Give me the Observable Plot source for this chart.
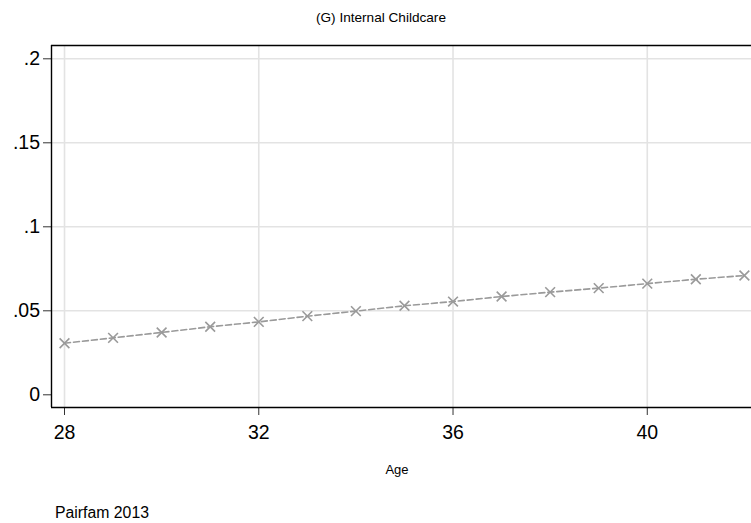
<!DOCTYPE html>
<html>
<head>
<meta charset="utf-8">
<script src="https://cdn.jsdelivr.net/npm/d3@7"></script>
<script src="https://cdn.jsdelivr.net/npm/@observablehq/plot@0.6"></script>
<style>
  html, body { margin: 0; padding: 0; background: #fff; overflow: hidden; }
  #wrap { position: relative; width: 751px; height: 523px; overflow: hidden; font-family: "Liberation Sans", Arial, Helvetica, sans-serif; }
  #chart svg { display: block; max-width: none; }
  .txt { position: absolute; color: #000; white-space: nowrap; line-height: 1; }
  #title { left: 0; width: 762px; text-align: center; top: 11px; font-size: 13.6px; }
  #xlabel { left: 0; width: 794px; text-align: center; top: 463px; font-size: 13px; }
  #caption { left: 55px; top: 505px; font-size: 15.8px; }
</style>
</head>
<body>
<div id="wrap">
  <div id="chart"></div>
  <div id="title" class="txt">(G) Internal Childcare</div>
  <div id="xlabel" class="txt">Age</div>
  <div id="caption" class="txt">Pairfam 2013</div>
</div>
<script>
const ages = [28, 29, 30, 31, 32, 33, 34, 35, 36, 37, 38, 39, 40, 41, 42];
const shares = [0.0307, 0.0339, 0.0371, 0.0405, 0.0434, 0.0468, 0.0498, 0.0530, 0.0555, 0.0585, 0.0611, 0.0635, 0.0662, 0.0688, 0.0710];
const xTicks = [28, 32, 36, 40];
const yTicks = [0, 0.05, 0.1, 0.15, 0.2];
const yTickLabels = ["0", ".05", ".1", ".15", ".2"];
const yGrid = [0.05, 0.1, 0.15, 0.2];

const data = ages.map((a, i) => ({age: a, share: shares[i]}));
const xDomain = [27.732, 42.352];
const yDomain = [-0.00756, 0.20792];

const chart = Plot.plot({
  width: 761,
  height: 523,
  marginLeft: 51,
  marginRight: 0,
  marginTop: 45,
  marginBottom: 116,
  style: {fontFamily: "'Liberation Sans', Arial, Helvetica, sans-serif", background: "#fff", color: "#000", maxWidth: "none"},
  x: {domain: xDomain, label: null},
  y: {domain: yDomain, label: null},
  marks: [
    Plot.gridX(xTicks, {stroke: "#e3e3e3", strokeOpacity: 1, strokeWidth: 1.6}),
    Plot.gridY(yGrid, {stroke: "#e3e3e3", strokeOpacity: 1, strokeWidth: 1.6}),
    Plot.axisY(yTicks, {
      tickSize: 8, tickPadding: 3.5, fontSize: 19.5, stroke: "#333",
      tickFormat: (d) => yTickLabels[yTicks.indexOf(d)], label: null, color: "#000"
    }),
    Plot.axisX(xTicks, {
      tickSize: 8, tickPadding: 10, fontSize: 19.5, stroke: "#333",
      tickFormat: (d) => String(d), label: null, color: "#000"
    }),
    Plot.ruleX([xDomain[0]], {stroke: "#000", strokeWidth: 1.4}),
    Plot.ruleY([yDomain[0], yDomain[1]], {stroke: "#000", strokeWidth: 1.4}),
    Plot.line(data, {x: "age", y: "share", stroke: "#9a9a9a", strokeWidth: 1.6, strokeDasharray: "6,3"}),
    Plot.dot(data, {x: "age", y: "share", symbol: "times", r: 4.5, stroke: "#9a9a9a", strokeWidth: 1.6})
  ]
});
document.getElementById("chart").appendChild(chart);
</script>
</body>
</html>
